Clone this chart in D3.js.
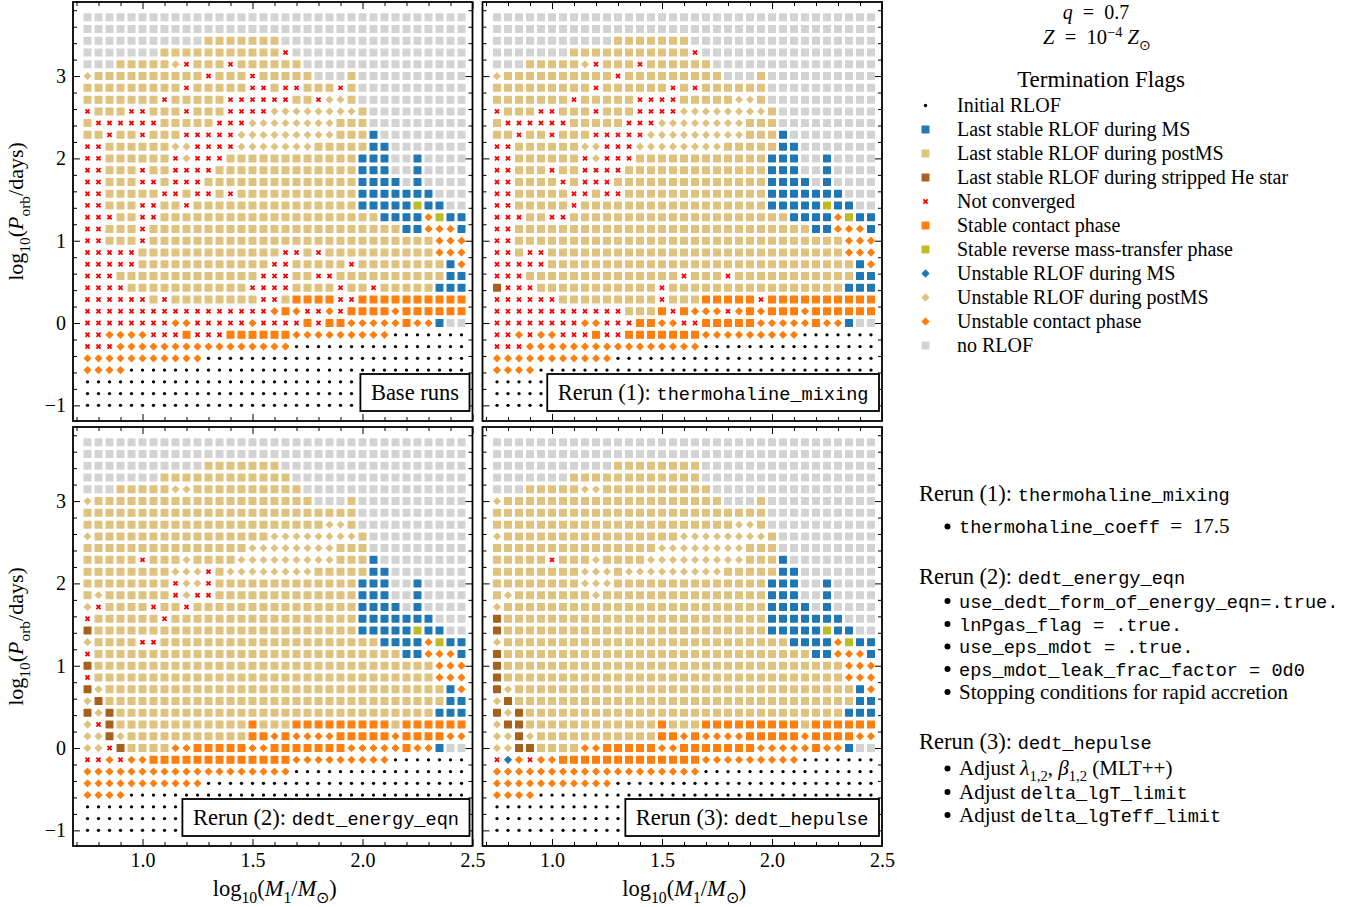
<!DOCTYPE html>
<html>
<head>
<meta charset="utf-8">
<title>Termination flags, q = 0.7</title>
<script src="https://d3js.org/d3.v7.min.js"></script>
<style>
  body { margin: 0; background: #fff; }
  svg text { font-family: "Liberation Serif", "Times New Roman", serif; fill: #000; white-space: pre; }
  svg .tt { font-family: "Liberation Mono", "DejaVu Sans Mono", monospace; }
</style>
</head>
<body>
<svg id="chart" width="1363" height="907"></svg>
<script>
// grid of the runs
const massGrid = [0.75, 0.80, 0.85, 0.90, 0.95, 1.00, 1.05, 1.10, 1.15, 1.20, 1.25, 1.30, 1.35, 1.40, 1.45, 1.50, 1.55,
  1.60, 1.65, 1.70, 1.75, 1.80, 1.85, 1.90, 1.95, 2.00, 2.05, 2.10, 2.15, 2.20, 2.25, 2.30, 2.35, 2.40, 2.45];
// top row first
const periodGrid = [3.714, 3.571, 3.429, 3.286, 3.143, 3.000, 2.857, 2.714, 2.571, 2.429, 2.286, 2.143, 2.000,
  1.857, 1.714, 1.571, 1.429, 1.286, 1.143, 1.000, 0.857, 0.714, 0.571, 0.429, 0.286, 0.143, 0.000,
  -0.143, -0.286, -0.429, -0.571, -0.714, -0.857, -1.000];

// termination flags
const flagCodes = [".", "B", "T", "H", "x", "O", "G", "b", "t", "o", "-"];
const flagLabels = ["Initial RLOF", "Last stable RLOF during MS", "Last stable RLOF during postMS",
  "Last stable RLOF during stripped He star", "Not converged", "Stable contact phase",
  "Stable reverse mass-transfer phase", "Unstable RLOF during MS", "Unstable RLOF during postMS",
  "Unstable contact phase", "no RLOF"];
const flagColors = ["#000000", "#1f77b4", "#dfc27d", "#a6611a", "#ff0000", "#ff7f0e", "#bcbd22",
  "#1f77b4", "#dfc27d", "#ff7f0e", "#d3d3d3"];
const flagShapes = ["dot", "square", "square", "square", "cross", "square", "square",
  "diamond", "diamond", "diamond", "square"];

// flag of every run, one string per period row (mass left to right)
const baseRuns = [
  "----------------- ------------------",
  "----------------- ------------------",
  "-----------TTTTTT T-----------------",
  "-------TTTTTTTTTT Tx----------------",
  "---TTTTTtxTTTxTTT TTT---------------",
  "tTTTTTTTTTTxTTTxT TTTT---T----------",
  "TTTTTTTTTxTTTTTxx TxxTTTxT----------",
  "TTTTTTTxTTTTTxxxx xxTTxttT----------",
  "xTTTxxTTTxTTTxxxx ttttttttT---------",
  "TxxxxxxTTTTTxxxtt ttttttTTT---------",
  "TTxTTxTTTxxxxxttt ttttttTTTB--------",
  "xxTTTTTTttxxxxttt ttttTTTTTBB-------",
  "xxTTTTTTxtxxxTTTT TTTTTTTTBBB--B----",
  "xxTTTxTTxxxxTTTTT TTTTTTTTBBB--B----",
  "xxTTTxxTxxxTTTTTT TTTTTTTTBBBB-B----",
  "xxTTTTTxxTxxTxTTT TTTTTTTTBBBBBBB---",
  "xxTTTxxTTxTTTTTTT TTTTTTTTBBBBBGBB--",
  "xxxTTxxTTTTTTTTTT TTTTTTTTTTBBBBoGBB",
  "xxTTTxTTTTTTTTTTT TTTTTTTTTTTTBBoooB",
  "xxTTTxTTTTTTTTTTT TTTTTTTTTTTTTTTooo",
  "xxxxxTTTTTTTTTTTT TxxTxTTTTTTTTTTooo",
  "xxxxxTTTTTTTTTTTT xxTTTTTxTTTTTTTTBo",
  "xxxTTTTTTTTTTTTTx xxTTxxTTTTTTTTTTBB",
  "xxxxTTTTTTTTTTTxx xxTTTTxTTxTTTTTBBB",
  "xxxxxxTxTTTTTTTTx xTOOOOxxOOOOOOOOOO",
  "xxxxxxxxxxxxxxxxx oOoxxoxOOOOoOOOOOO",
  "xxxxxxxxooxxxxxox xxxOxOOoooooOooB--",
  "xxooooxxxOxxxOOOO OOooooooooo.......",
  "xxxoooooooooooooo oo................",
  "ooooooooooo...... ..................",
  "oooo............. ..................",
  "................. ..................",
  "................. ..................",
  "................. .................."
];
const rerunThermohaline = [
  "----------------- ------------------",
  "----------------- ------------------",
  "-----------TTTTTT T-----------------",
  "-------TTTTTTTTTT Tx----------------",
  "---TTTTTtxTTTxTTT TTT---------------",
  "tTTTTTTTTTTxTTTTT TTTT---T----------",
  "TTTTTTTTTxTTTTTTx TxTTTTTT----------",
  "TTTTTTTxTTTTTxxxx TTTTTttT----------",
  "xTTTxxTTTxTTTxxxx ttttttttT---------",
  "TxxxxxxTTTTTxxxtt ttttttTTT---------",
  "TTxTTxTTTxxxxxttt ttttttTTTB--------",
  "xxTTTTTTttxxxtttt ttttTTTTTBB-------",
  "xxTTTTTTxtxxxTTTT TTTTTTTTBBB--B----",
  "xxTTTxTTxxxxTTTTT TTTTTTTTBBB--B----",
  "xxTTTTxTxxxTTTTTT TTTTTTTTBBBB-B----",
  "xxTTTTTxxTxxTTTTT TTTTTTTTBBBBBBB---",
  "xxTTTTTxTTTTTTTTT TTTTTTTTBBBBBGBB--",
  "xxxTTxxTTTTTTTTTT TTTTTTTTTTBBBBoGBB",
  "xxTTTTTTTTTTTTTTT TTTTTTTTTTTTBBoooB",
  "xxTTTTTTTTTTTTTTT TTTTTTTTTTTTTTTooo",
  "xxTxxTTTTTTTTTTTT TTTTTTTTTTTTTTTooo",
  "xxxxxTTTTTTTTTTTT TTTTTTTTTTTTTTTTBo",
  "xxxTTTTTTTTTTTTTT xTTTxTTTTTTTTTTTBB",
  "HxxxTTTTTTTTTTTxT TTTTTTTTTTTTTTTBBB",
  "xxxxxxTTTTTTTTTxT TTOOOOOxOOOOOOOOOO",
  "xxxxxxxxxxxxTTTOx OoooxoOoOOOoOOOOOO",
  "xxxxxxxxooxxxOOoo xxOOOOOoooooOooB--",
  "xxoxooxxxOxxOOOOO OOooooooooo.......",
  "xxxoooooooooooooo oo................",
  "ooooooooooo...... ..................",
  "oooo............. ..................",
  "................. ..................",
  "................. ..................",
  "................. .................."
];
const rerunEnergyEqn = [
  "----------------- ------------------",
  "----------------- ------------------",
  "-----------TTTTTT T-----------------",
  "-------TTTTTTTTTT TT----------------",
  "---TTTTTttTTTTTTT TTT---------------",
  "tTTTTTTTTTTTTTTTT TTTT---T----------",
  "TTTTTTTTTTTTTTTTT TTTTTTTT----------",
  "TTTTTTTTTTTTTTTTT TTTTTttT----------",
  "tTTTTTTTTTTTTTTTT ttttttttT---------",
  "TTTTTTTTTTTTTTTtt ttttttTTT---------",
  "TTTTTxTTTtTTTTttt ttttttTTTB--------",
  "TTTTTTTTtttxTtttt ttttTTTTTBB-------",
  "TTTTTTTTxttxTTTTT TTTTTTTTBBB--B----",
  "TtTTTTTTxtxxTTTTT TTTTTTTTBBB--B----",
  "txTTTTxTTxTTTTTTT TTTTTTTTBBBB-B----",
  "xTTTTTTxTTTTTTTTT TTTTTTTTBBBBBBB---",
  "HTTTTTTTTTTTTTTTT TTTTTTTTBBBBBGBB--",
  "tTTTTxxTTTTTTTTTT TTTTTTTTTTBBBBoGBB",
  "xTTTTTTTTTTTTTTTT TTTTTTTTTTTTBBoooB",
  "HTTTTTTTTTTTTTTTT TTTTTTTTTTTTTTTooo",
  "xTTTTTTTTTTTTTTTT TTTTTTTTTTTTTTTooo",
  "HtTTTTTTTTTTTTTTT TTTTTTTTTTTTTTTTBo",
  "tHTTTTTTTTTTTTTTT TTTTTTTTTTTTTTTTBB",
  "HtHTTTTTTTTTTTTTT TTTTTTTTTTTTTTTBBB",
  "txHTTTTTTTTTTTTOT TTOOOOOOOOOTOOOOOO",
  "ttHtTTTTTTTTTTTOO oOooooOOOOOoOOOOoo",
  "ttxHTTTTooOOOOOoo OOOOOOOoooooOooB--",
  "xxoxooOOOOOOOOOOO OOooooooooo.......",
  "ooooooooooooooooo oo................",
  "ooooooooooo...... ..................",
  "oooo............. ..................",
  "................. ..................",
  "................. ..................",
  "................. .................."
];
const rerunHepulse = [
  "----------------- ------------------",
  "----------------- ------------------",
  "-----------TTTTTT TT----------------",
  "-------TTTTTTTTTT TT----------------",
  "---TTTTTttTTTTTTT TTT---------------",
  "tTTTTTTTTTTTTTTTT TTTT---T----------",
  "TTTTTTTTTTTTTTTTT TTTTTTTT----------",
  "TTTTTTTTTTTTTTTTT TTTTTttT----------",
  "tTTTTTTTTTTTTTTTT ttttttttT---------",
  "TTTTTTTTTTTTTTTtt ttttttTTT---------",
  "TTTTTxTTTtTTTTttt ttttttTTTB--------",
  "TTTTTTTTtttTttttt ttttTTTTTBB-------",
  "TTTTTTTTtttTTTTTT TTTTTTTTBBB--B----",
  "TtTTTTTTTtTTTTTTT TTTTTTTTBBB--B----",
  "tTTTTTTTTTTTTTTTT TTTTTTTTBBBB-B----",
  "HTTTTTTTTTTTTTTTT TTTTTTTTBBBBBBB---",
  "HTTTTTTTTTTTTTTTT TTTTTTTTBBBBBGBB--",
  "tTTTTTTTTTTTTTTTT TTTTTTTTTTBBBBoGBB",
  "HTTTTTTTTTTTTTTTT TTTTTTTTTTTTBBoooB",
  "HTTTTTTTTTTTTTTTT TTTTTTTTTTTTTTTooo",
  "HTTTTTTTTTTTTTTTT TTTTTTTTTTTTTTTooo",
  "HtTTTTTTTTTTTTTTT TTTTTTTTTTTTTTTTBo",
  "tHTTTTTTTTTTTTTTT TTTTTTTTTTTTTTTTBB",
  "HtHTTTTTTTTTTTTTT TTTTTTTTTTTTTTTBBB",
  "tHHTTTTTTTTTTTTOT TTOOOOOOOOOTOOOOOO",
  "ttHtTTTTTTTTTTTOO oOooooOOOOOoOOOOoo",
  "ttHHTTTTooOOOOOoo OOOOOOOoooooOooB--",
  "xboxooOOOOOOOOOOO OOooooooooo.......",
  "ooooooooooooooooo oo................",
  "ooooooooooo...... ..................",
  "oooo............. ..................",
  "................. ..................",
  "................. ..................",
  "................. .................."
];

// axes
const xMajorTicks = [1.0, 1.5, 2.0, 2.5];
const xMinorTicks = [0.7, 0.8, 0.9, 1.1, 1.2, 1.3, 1.4, 1.6, 1.7, 1.8, 1.9, 2.1, 2.2, 2.3, 2.4];
const yMajorTicks = [-1, 0, 1, 2, 3];
const yMinorTicks = [-0.8, -0.6, -0.4, -0.2, 0.2, 0.4, 0.6, 0.8, 1.2, 1.4, 1.6, 1.8,
  2.2, 2.4, 2.6, 2.8, 3.2, 3.4, 3.6, 3.8];

const svg = d3.select("#chart");
const panelW = 399.5, panelH = 419;
const monoSize = 18.6;
const x = d3.scaleLinear().domain([0.684, 2.5]).range([0, panelW]);
const y = d3.scaleLinear().domain([-1.19, 3.9]).range([panelH, 0]);

const flagIndex = {};
flagCodes.forEach(function(c, i) { flagIndex[c] = i; });

const symbols = {
  square: d3.symbol().type(d3.symbolSquare).size(45)(),
  diamond: d3.symbol().type(d3.symbolDiamond2).size(26)(),
  cross: d3.symbol().type(d3.symbolTimes).size(13)(),
  dot: d3.symbol().type(d3.symbolCircle).size(8.5)()
};
function styleMarker(sel, i) {
  const shape = flagShapes[i], color = flagColors[i];
  sel.attr("d", symbols[shape]);
  if (shape === "cross") {
    sel.attr("fill", "none").attr("stroke", color).attr("stroke-width", 1.8);
  } else {
    sel.attr("fill", color)
      .attr("stroke", shape === "dot" ? "none" : color)
      .attr("stroke-width", 1.3)
      .attr("stroke-linejoin", "round");
  }
}

// text with roman / italic / typewriter / sub / sup pieces
function rich(parent, px, py, size, parts, anchor) {
  const t = parent.append("text")
    .attr("x", px).attr("y", py)
    .attr("font-size", size)
    .attr("text-anchor", anchor || "start");
  let shift = 0;
  parts.forEach(function(p) {
    const s = p[0], k = p[1] || "rm";
    const sp = t.append("tspan").text(s);
    let target = 0, fs = size;
    if (k === "tt") { sp.attr("class", "tt"); fs = monoSize; }
    if (k === "it" || k === "subit") sp.attr("font-style", "italic");
    if (k === "sub" || k === "subit") { target = size * 0.3; fs = size * 0.7; }
    if (k === "sup") { target = -size * 0.33; fs = size * 0.7; }
    sp.attr("font-size", fs);
    if (target !== shift) { sp.attr("dy", target - shift); shift = target; }
  });
  return t;
}

const panels = [
  { rows: baseRuns, x0: 73, y0: 2, box: [["Base runs"]], xLab: false, yLab: true },
  { rows: rerunThermohaline, x0: 482.5, y0: 2, box: [["Rerun (1): "], ["thermohaline_mixing", "tt"]], xLab: false, yLab: false },
  { rows: rerunEnergyEqn, x0: 73, y0: 427, box: [["Rerun (2): "], ["dedt_energy_eqn", "tt"]], xLab: true, yLab: true },
  { rows: rerunHepulse, x0: 482.5, y0: 427, box: [["Rerun (3): "], ["dedt_hepulse", "tt"]], xLab: true, yLab: false }
];

panels.forEach(function(p) {
  const g = svg.append("g").attr("transform", "translate(" + p.x0 + "," + p.y0 + ")");

  const cells = [];
  p.rows.forEach(function(row, r) {
    row.replace(/ /g, "").split("").forEach(function(code, c) {
      cells.push({ m: massGrid[c], per: periodGrid[r], f: flagIndex[code] });
    });
  });
  g.append("g").selectAll("path")
      .data(cells)
    .join("path")
      .attr("transform", function(d) { return "translate(" + x(d.m) + "," + y(d.per) + ")"; })
      .each(function(d) { styleMarker(d3.select(this), d.f); });

  // ticks, pointing in on all four sides
  function ticks(axis, values, size, fmt) {
    return axis.tickValues(values).tickSize(-size).tickPadding(7).tickFormat(fmt || "");
  }
  const axes = [
    [ticks(d3.axisBottom(x), xMajorTicks, 7, p.xLab ? d3.format(".1f") : null), [0, panelH]],
    [ticks(d3.axisBottom(x), xMinorTicks, 4), [0, panelH]],
    [ticks(d3.axisTop(x), xMajorTicks, 7), [0, 0]],
    [ticks(d3.axisTop(x), xMinorTicks, 4), [0, 0]],
    [ticks(d3.axisLeft(y), yMajorTicks, 7, p.yLab ? d3.format("d") : null), [0, 0]],
    [ticks(d3.axisLeft(y), yMinorTicks, 4), [0, 0]],
    [ticks(d3.axisRight(y), yMajorTicks, 7), [panelW, 0]],
    [ticks(d3.axisRight(y), yMinorTicks, 4), [panelW, 0]]
  ];
  axes.forEach(function(a) {
    const ag = g.append("g")
      .attr("transform", "translate(" + a[1][0] + "," + a[1][1] + ")")
      .call(a[0]);
    ag.select(".domain").remove();
    ag.selectAll("line").attr("stroke", "#000").attr("stroke-width", 1);
    ag.selectAll("text")
      .attr("font-family", "Liberation Serif, serif")
      .attr("font-size", 20)
      .attr("fill", "#000");
  });

  g.append("rect")
    .attr("width", panelW).attr("height", panelH)
    .attr("fill", "none").attr("stroke", "#000").attr("stroke-width", 1.8);

  // run label, lower right
  const box = g.append("g");
  const label = rich(box, 0, 0, 22.5, p.box);
  const w = label.node().getComputedTextLength();
  const bw = w + 21, bh = 37;
  const bx = panelW - 3 - bw, by = panelH - 10 - bh;
  box.insert("rect", "text")
    .attr("x", bx).attr("y", by).attr("width", bw).attr("height", bh)
    .attr("fill", "#fff").attr("stroke", "#000").attr("stroke-width", 1.8);
  label.attr("x", bx + 10.5).attr("y", by + 25.5);

  if (p.yLab) {
    rich(svg, 0, 0, 22, [["log"], ["10", "sub"], ["("], ["P", "it"], ["orb", "sub"], ["/days)"]], "middle")
      .attr("transform", "translate(23," + (p.y0 + panelH / 2) + ") rotate(-90)");
  }
  if (p.xLab) {
    rich(svg, p.x0 + panelW / 2 + 2, 896, 22.5,
      [["log"], ["10", "sub"], ["("], ["M", "it"], ["1", "sub"], ["/"], ["M", "it"], ["\u2299", "sub"], [")"]], "middle");
  }
});

// header and legend
const sp = "\u2002";
rich(svg, 1096, 19, 20, [["q", "it"], [sp + "=" + sp + "0.7"]], "middle");
rich(svg, 1097, 43.5, 20.5, [["Z", "it"], [sp + "=" + sp + "10"], ["\u22124", "sup"], [" "], ["Z", "it"], ["\u2299", "sub"]], "middle");
svg.append("text")
  .attr("x", 1101).attr("y", 87)
  .attr("font-size", 23)
  .attr("text-anchor", "middle")
  .text("Termination Flags");

const legend = svg.append("g").attr("transform", "translate(925.5,105.5)");
flagLabels.forEach(function(lab, i) {
  const row = legend.append("g").attr("transform", "translate(0," + (i * 24) + ")");
  styleMarker(row.append("path"), i);
  row.append("text")
    .attr("x", 31.5).attr("y", 6.5)
    .attr("font-size", 20)
    .text(lab);
});

// notes on the reruns
const notes = svg.append("g");
function item(py, parts) {
  notes.append("circle").attr("cx", 947.5).attr("cy", py - 6.5).attr("r", 3).attr("fill", "#000");
  rich(notes, 959, py, 21, parts);
}
rich(notes, 919, 501, 22.5, [["Rerun (1): "], ["thermohaline_mixing", "tt"]]);
item(533, [["thermohaline_coeff", "tt"], [sp + "=" + sp + "17.5"]]);
rich(notes, 919, 583.5, 22.5, [["Rerun (2): "], ["dedt_energy_eqn", "tt"]]);
item(607.5, [["use_dedt_form_of_energy_eqn=.true.", "tt"]]);
item(630.5, [["lnPgas_flag = .true.", "tt"]]);
item(653, [["use_eps_mdot = .true.", "tt"]]);
item(675.5, [["eps_mdot_leak_frac_factor = 0d0", "tt"]]);
item(698.5, [["Stopping conditions for rapid accretion"]]);
rich(notes, 919, 748.5, 22.5, [["Rerun (3): "], ["dedt_hepulse", "tt"]]);
item(775, [["Adjust "], ["\u03bb", "it"], ["1,2", "sub"], [", "], ["\u03b2", "it"], ["1,2", "sub"], [" (MLT++)"]]);
item(798.5, [["Adjust "], ["delta_lgT_limit", "tt"]]);
item(821.5, [["Adjust "], ["delta_lgTeff_limit", "tt"]]);
</script>
</body>
</html>
